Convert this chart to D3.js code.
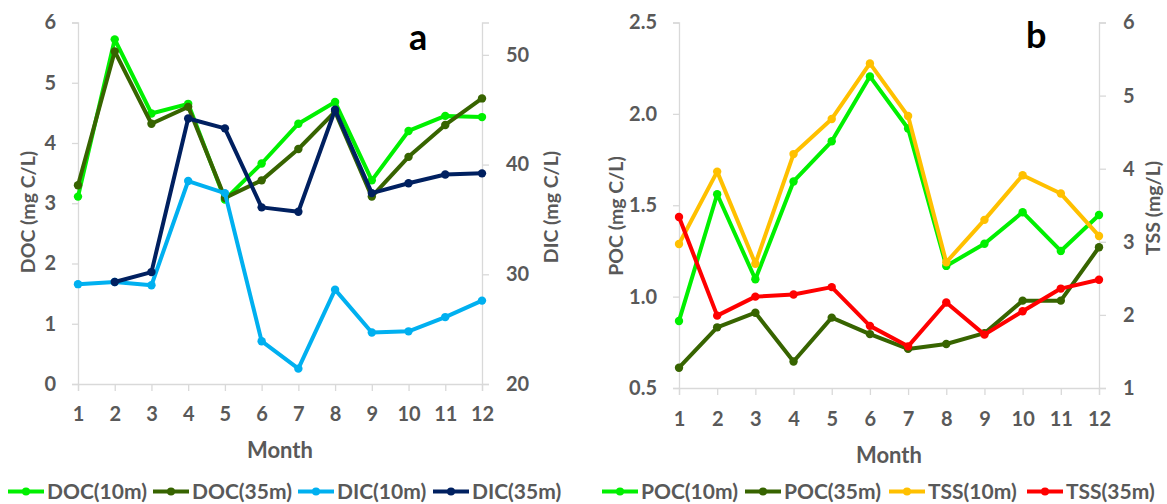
<!DOCTYPE html>
<html>
<head>
<meta charset="utf-8">
<script src="https://cdn.jsdelivr.net/npm/d3@7"></script>
<style>
  html, body { margin: 0; padding: 0; background: #fff; }
  svg text { font-family: Lato, "Open Sans", sans-serif; font-weight: bold; }
</style>
</head>
<body>
<svg id="chart" width="1167" height="504"></svg>
<script>
// Monthly samples, months 1–12
const months = [1, 2, 3, 4, 5, 6, 7, 8, 9, 10, 11, 12];

// Panel a: dissolved carbon (mg C/L)
const doc10 = [3.11, 5.72, 4.49, 4.65, 3.06, 3.66, 4.32, 4.68, 3.38, 4.20, 4.45, 4.43];
const doc35 = [3.30, 5.52, 4.32, 4.60, 3.09, 3.38, 3.90, 4.52, 3.11, 3.77, 4.30, 4.74];
const dic10 = [29.1, 29.3, 29.0, 38.5, 37.4, 23.9, 21.4, 28.6, 24.7, 24.8, 26.1, 27.6];
const dic35 = [null, 29.3, 30.2, 44.2, 43.3, 36.1, 35.7, 45.0, 37.4, 38.3, 39.1, 39.2];

// Panel b: particulate carbon (mg C/L) and suspended solids (mg/L)
const poc10 = [0.867, 1.56, 1.095, 1.63, 1.85, 2.205, 1.92, 1.168, 1.289, 1.462, 1.25, 1.447];
const poc35 = [0.611, 0.832, 0.912, 0.645, 0.885, 0.795, 0.714, 0.741, 0.80, 0.978, 0.978, 1.27];
const tss10 = [2.97, 3.96, 2.70, 4.20, 4.68, 5.44, 4.72, 2.72, 3.30, 3.91, 3.66, 3.08];
const tss35 = [3.34, 1.99, 2.25, 2.28, 2.38, 1.85, 1.57, 2.17, 1.73, 2.05, 2.36, 2.48];

// Axis ticks
const docTicks = [0, 1, 2, 3, 4, 5, 6];
const dicTicks = [20, 30, 40, 50];
const pocTicks = [0.5, 1.0, 1.5, 2.0, 2.5];
const tssTicks = [1, 2, 3, 4, 5, 6];

const svg = d3.select("#chart");
const AXIS = "#D9D9D9";
const TXT = "#595959";

function panel(cfg) {
  const g = svg.append("g");
  const x = d3.scaleLinear().domain([1, 12]).range([cfg.x0, cfg.x1]);
  const yL = d3.scaleLinear().domain(cfg.leftDomain).range([cfg.y0, cfg.y1]);
  const yR = d3.scaleLinear().domain(cfg.rightDomain).range([cfg.y0, cfg.y1]);

  // axes
  const axL = d3.axisLeft(yL).tickValues(cfg.leftTicks).tickFormat(cfg.leftFmt).tickSize(6).tickPadding(16);
  const axR = d3.axisRight(yR).tickValues(cfg.rightTicks).tickFormat(d3.format("d")).tickSize(7).tickPadding(17);
  const axB = d3.axisBottom(x).tickValues(months).tickFormat(d3.format("d")).tickSize(7).tickPadding(cfg.xPad);

  [[axL, cfg.x0, 0], [axR, cfg.x1, 0], [axB, 0, cfg.y0]].forEach(([ax, tx, ty]) => {
    const a = g.append("g").attr("transform", `translate(${tx},${ty})`).call(ax);
    a.select(".domain").attr("stroke", AXIS).attr("stroke-width", 1.3);
    a.selectAll(".tick line").attr("stroke", AXIS).attr("stroke-width", 1.3);
    a.selectAll(".tick text").attr("fill", TXT).style("font-size", "20px");
  });

  // axis titles
  g.append("text").attr("transform", `translate(${cfg.ltX},${cfg.ltY}) rotate(-90)`)
    .attr("text-anchor", "middle").attr("dominant-baseline", "central")
    .attr("fill", TXT).style("font-size", "19.5px").text(cfg.leftTitle);
  g.append("text").attr("transform", `translate(${cfg.rtX},${cfg.rtY}) rotate(-90)`)
    .attr("text-anchor", "middle").attr("dominant-baseline", "central")
    .attr("fill", TXT).style("font-size", "19.5px").text(cfg.rightTitle);
  g.append("text").attr("x", (cfg.x0 + cfg.x1) / 2).attr("y", cfg.monthY)
    .attr("text-anchor", "middle").attr("fill", TXT).style("font-size", "22px").text("Month");

  // panel letter
  g.append("text").attr("x", cfg.letterX).attr("y", cfg.letterY).attr("fill", "#000")
    .style("font-size", "36px").text(cfg.letter);

  // series
  cfg.series.forEach(s => {
    const y = s.axis === "left" ? yL : yR;
    const pts = months.map((m, i) => [m, s.values[i]]).filter(p => p[1] != null);
    const line = d3.line().x(p => x(p[0])).y(p => y(p[1]));
    g.append("path").datum(pts).attr("d", line).attr("fill", "none")
      .attr("stroke", s.color).attr("stroke-width", 4).attr("stroke-linejoin", "round");
    g.selectAll(null).data(pts).enter().append("circle")
      .attr("cx", p => x(p[0])).attr("cy", p => y(p[1])).attr("r", 4.2).attr("fill", s.color);
  });

  // legend
  cfg.series.forEach((s, i) => {
    const lx = cfg.legendX[i];
    const lg = g.append("g");
    lg.append("line").attr("x1", lx).attr("x2", lx + 36).attr("y1", 491.5).attr("y2", 491.5)
      .attr("stroke", s.color).attr("stroke-width", 4);
    lg.append("circle").attr("cx", lx + 18).attr("cy", 491.5).attr("r", 4).attr("fill", s.color);
    lg.append("text").attr("x", lx + 39).attr("y", 499).attr("fill", TXT)
      .style("font-size", "21px").text(s.name);
  });
}

panel({
  x0: 78, x1: 482, y0: 384, y1: 22.5,
  leftDomain: [0, 6], rightDomain: [20, 52.95],
  leftTicks: docTicks, rightTicks: dicTicks, leftFmt: d3.format("d"), xPad: 16,
  leftTitle: "DOC (mg C/L)", ltX: 27, ltY: 212,
  rightTitle: "DIC (mg C/L)", rtX: 550, rtY: 207,
  monthY: 458, letter: "a", letterX: 409, letterY: 50,
  legendX: [8, 153, 298, 433],
  series: [
    { name: "DOC(10m)", values: doc10, color: "#00F000", axis: "left" },
    { name: "DOC(35m)", values: doc35, color: "#376400", axis: "left" },
    { name: "DIC(10m)", values: dic10, color: "#00B0F0", axis: "right" },
    { name: "DIC(35m)", values: dic35, color: "#002060", axis: "right" }
  ]
});

panel({
  x0: 679, x1: 1099, y0: 388, y1: 22.5,
  leftDomain: [0.5, 2.5], rightDomain: [1, 6],
  leftTicks: pocTicks, rightTicks: tssTicks, leftFmt: d3.format(".1f"), xPad: 17,
  leftTitle: "POC (mg C/L)", ltX: 615, ltY: 216,
  rightTitle: "TSS (mg/L)", rtX: 1152, rtY: 208,
  monthY: 463, letter: "b", letterX: 1026, letterY: 48,
  legendX: [602, 745, 889, 1027],
  series: [
    { name: "POC(10m)", values: poc10, color: "#00F000", axis: "left" },
    { name: "POC(35m)", values: poc35, color: "#376400", axis: "left" },
    { name: "TSS(10m)", values: tss10, color: "#FFC000", axis: "right" },
    { name: "TSS(35m)", values: tss35, color: "#FF0000", axis: "right" }
  ]
});
</script>
</body>
</html>
